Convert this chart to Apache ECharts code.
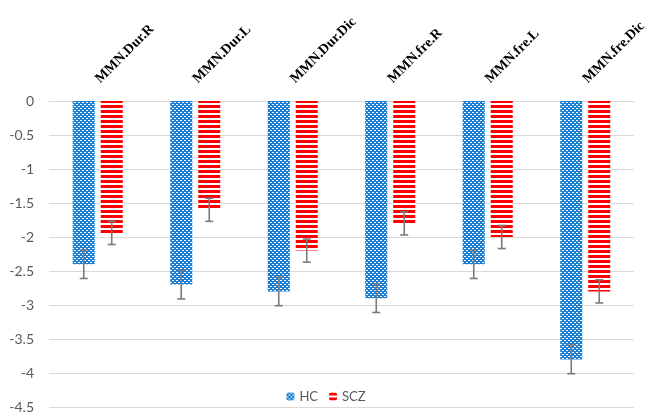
<!DOCTYPE html>
<html>
<head>
<meta charset="utf-8">
<script src="https://cdn.jsdelivr.net/npm/echarts@6/dist/echarts.min.js"></script>
<style>
  html, body { margin: 0; padding: 0; background: #fff; }
  #chart { width: 652px; height: 414px; }
</style>
</head>
<body>
<div id="chart"></div>
<script>
// Mean MMN measures per group, with error ranges
var categories = ['MMN.Dur.R', 'MMN.Dur.L', 'MMN.Dur.Dic', 'MMN.fre.R', 'MMN.fre.L', 'MMN.fre.Dic'];
var hcValues = [-2.4, -2.7, -2.8, -2.9, -2.4, -3.8];
var sczValues = [-1.94, -1.6, -2.2, -1.8, -2.0, -2.8];
var hcError = [0.21, 0.21, 0.21, 0.21, 0.21, 0.21];
var sczError = [0.17, 0.17, 0.17, 0.17, 0.17, 0.17];
var yTicks = [0, -0.5, -1, -1.5, -2, -2.5, -3, -3.5, -4, -4.5];

// Fill patterns: blue confetti dots for HC, red horizontal stripes for SCZ
function makeDotPattern() {
  var c = document.createElement('canvas');
  c.width = 4; c.height = 4;
  var ctx = c.getContext('2d');
  ctx.fillStyle = '#1a7fd4';
  ctx.fillRect(0, 0, 4, 4);
  ctx.fillStyle = '#ffffff';
  ctx.fillRect(0, 0, 2, 1);
  ctx.fillRect(2, 2, 2, 1);
  return c;
}
function makeStripePattern() {
  var c = document.createElement('canvas');
  c.width = 4; c.height = 5;
  var ctx = c.getContext('2d');
  ctx.fillStyle = '#ffffff';
  ctx.fillRect(0, 0, 4, 5);
  ctx.fillStyle = '#ff0000';
  ctx.fillRect(0, 0, 4, 3);
  return c;
}
var hcFill = { image: makeDotPattern(), repeat: 'repeat' };
var sczFill = { image: makeStripePattern(), repeat: 'repeat' };

var barCategoryGap = 0.487;
var barGap = 0.27;

function errorData(values, errs) {
  return values.map(function (v, i) { return [i, v - errs[i], v + errs[i]]; });
}

// Draws an error whisker for one of the two bars in a category
function errorRenderer(side) {
  return function (params, api) {
    var idx = api.value(0);
    var lo = api.coord([idx, api.value(1)]);
    var hi = api.coord([idx, api.value(2)]);
    var band = api.size([1, 0])[0];
    var usable = band * (1 - barCategoryGap);
    var bw = usable / (2 + barGap);
    var offset = (bw / 2 + bw * barGap / 2) * side;
    var x = lo[0] + offset;
    var cap = 4;
    var style = { stroke: '#7a7a7a', lineWidth: 1.6 };
    return {
      type: 'group',
      children: [
        { type: 'line', shape: { x1: x, y1: lo[1], x2: x, y2: hi[1] }, style: style },
        { type: 'line', shape: { x1: x - cap, y1: lo[1], x2: x + cap, y2: lo[1] }, style: style },
        { type: 'line', shape: { x1: x - cap, y1: hi[1], x2: x + cap, y2: hi[1] }, style: style }
      ]
    };
  };
}

var chart = echarts.init(document.getElementById('chart'));
chart.setOption({
  animation: false,
  backgroundColor: '#ffffff',
  grid: { left: 49, right: 18, top: 101, bottom: 5, containLabel: false },
  legend: {
    data: ['HC', 'SCZ'],
    left: 'center',
    top: 385,
    itemWidth: 8,
    itemHeight: 8,
    itemGap: 11,
    textStyle: { color: '#595959', fontSize: 13, fontFamily: 'Lato' }
  },
  xAxis: {
    type: 'category',
    position: 'top',
    data: categories,
    axisLine: { show: true, lineStyle: { color: '#d9d9d9', width: 1 } },
    axisTick: { show: false },
    axisLabel: {
      rotate: 45,
      margin: 20,
      interval: 0,
      color: '#000000',
      fontWeight: 'bold',
      fontSize: 14,
      fontFamily: 'Liberation Serif'
    }
  },
  yAxis: {
    type: 'value',
    min: -4.5,
    max: 0,
    interval: 0.5,
    axisLine: { show: false },
    axisTick: { show: false },
    splitLine: { lineStyle: { color: '#d9d9d9', width: 1 } },
    axisLabel: {
      margin: 15,
      color: '#595959',
      fontSize: 14,
      fontFamily: 'Lato',
      formatter: function (v) {
        return yTicks.indexOf(v) >= 0 ? String(v) : '';
      }
    }
  },
  series: [
    {
      name: 'HC',
      type: 'bar',
      data: hcValues,
      barGap: (barGap * 100) + '%',
      barCategoryGap: (barCategoryGap * 100) + '%',
      itemStyle: { color: hcFill }
    },
    {
      name: 'SCZ',
      type: 'bar',
      data: sczValues,
      itemStyle: { color: sczFill }
    },
    {
      type: 'custom',
      renderItem: errorRenderer(-1),
      data: errorData(hcValues, hcError),
      encode: { x: 0, y: [1, 2] },
      z: 10
    },
    {
      type: 'custom',
      renderItem: errorRenderer(1),
      data: errorData(sczValues, sczError),
      encode: { x: 0, y: [1, 2] },
      z: 10
    }
  ]
});
</script>
</body>
</html>
